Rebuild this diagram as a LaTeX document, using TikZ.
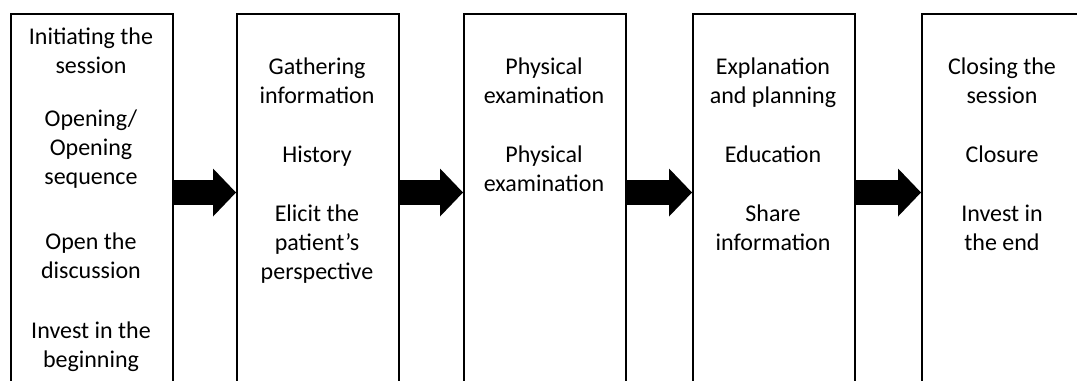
\documentclass[tikz,border=0pt]{standalone}
\usepackage{fontspec}
\setmainfont{Carlito}
\usetikzlibrary{arrows.meta}

\begin{document}
\begin{tikzpicture}[x=0.75pt, y=-0.75pt,
    stage/.style={draw, line width=1.5pt, minimum width=121.5pt, minimum height=300pt,
        anchor=north west, inner sep=0pt},
    stagetext/.style={anchor=north, align=center, inner sep=0pt,
        font=\fontsize{18pt}{21.75pt}\selectfont},
    flow/.style={line width=18.75pt, -{Triangle[width=36pt, length=17.25pt, line width=0pt]}}]
    % Canvas
    \useasboundingbox (0,0) rectangle (1077,380);
    \clip (0,0) rectangle (1077,380);

    % Stages
    \node[stage] (b1) at (10,13) {};
    \node[stage] (b2) at (236,13) {};
    \node[stage] (b3) at (463,13) {};
    \node[stage] (b4) at (692,13) {};
    \node[stage] (b5) at (921,13) {};

    % Stage texts
    \node[stagetext] (t1) at (91,28) {Initiating the\\session\\[18pt]
        Opening/\\Opening\\sequence\\[27pt]Open the\\discussion\\[23pt]
        Invest in the\\beginning};
    \node[stagetext] (t2) at (317,58) {Gathering\\information\\[22.5pt]
        History\\[22.5pt]Elicit the\\patient’s\\perspective};
    \node[stagetext] (t3) at (544,58) {Physical\\examination\\[22.5pt]
        Physical\\examination};
    \node[stagetext] (t4) at (773,58) {Explanation\\and planning\\[22.5pt]
        Education\\[22.5pt]Share\\information};
    \node[stagetext] (t5) at (1002,58) {Closing the\\session\\[22.5pt]
        Closure\\[22.5pt]Invest in\\the end};

    % Arrows
    \coordinate (row) at (0,192.5);
    \foreach \a/\b in {b1/b2, b2/b3, b3/b4, b4/b5}
        \draw[flow] (\a.east |- row) -- (\b.west |- row);
\end{tikzpicture}
\end{document}
